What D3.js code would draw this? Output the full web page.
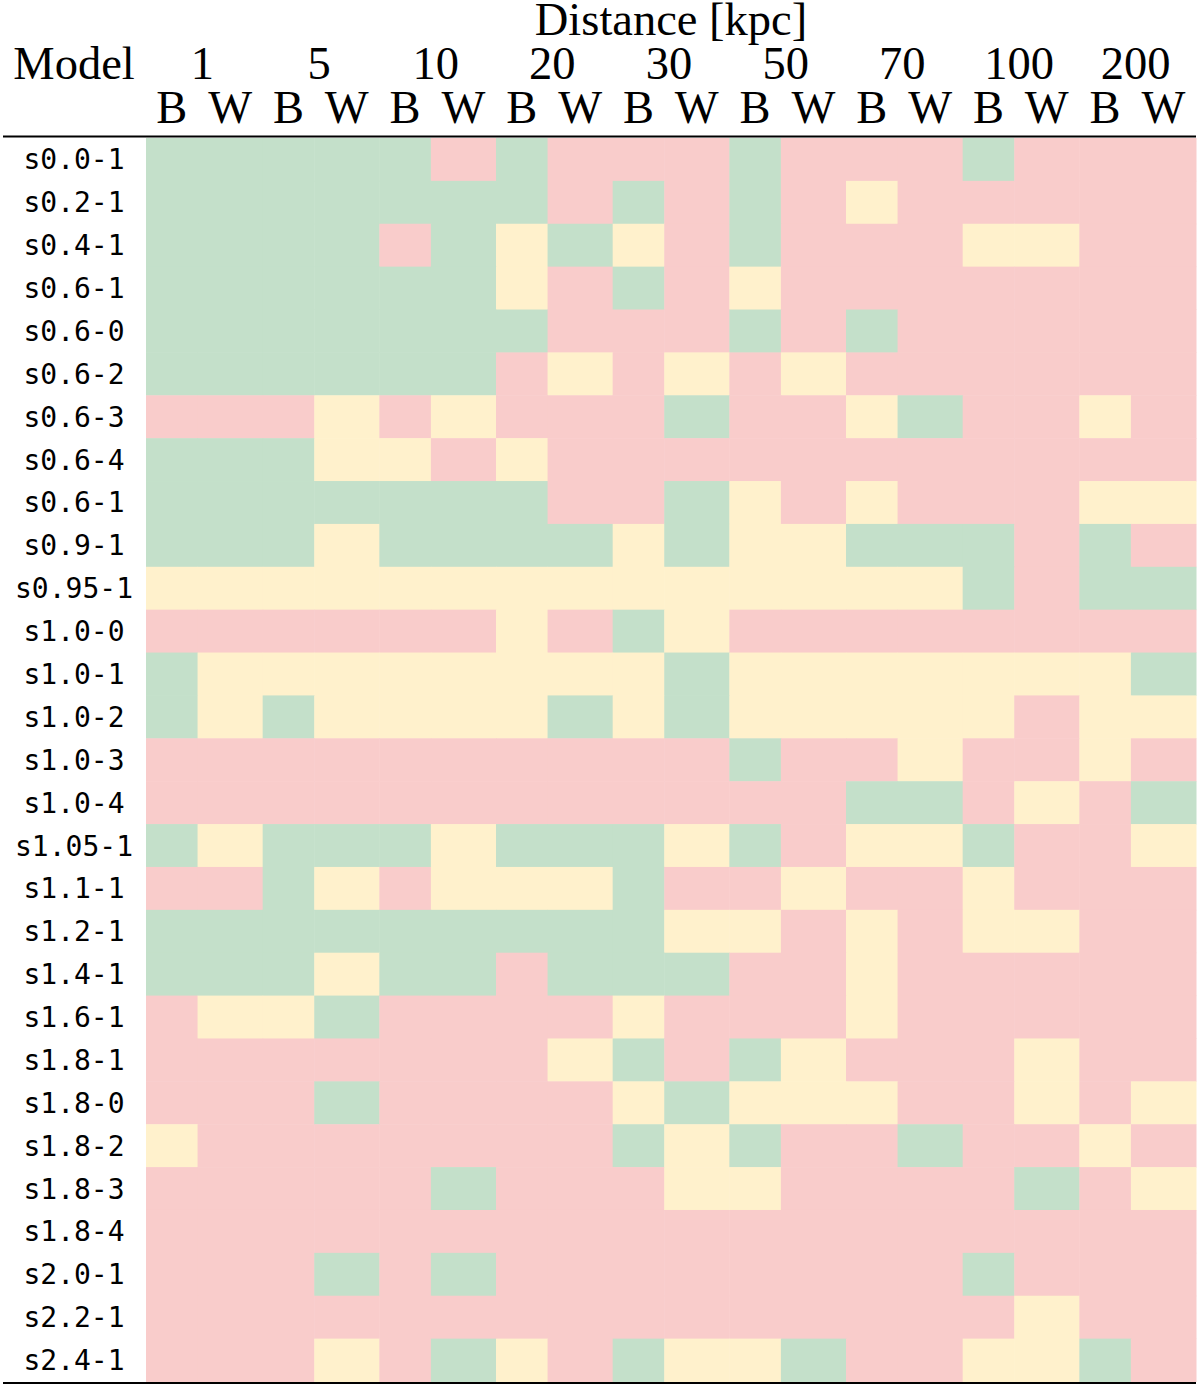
<!DOCTYPE html>
<html>
<head>
<meta charset="utf-8">
<script src="https://cdn.jsdelivr.net/npm/d3@7"></script>
<style>
  body { margin: 0; background: #fff; }
  .hdr { font-family: "Liberation Serif", "Times New Roman", serif; font-size: 46.5px; fill: #000; }
  .model { font-family: "DejaVu Sans Mono", monospace; font-size: 28px; fill: #000; }
</style>
</head>
<body>
<div id="chart"></div>
<script>
var svgWidth = 1200;
var svgHeight = 1387;

// table data
var distances = ["1", "5", "10", "20", "30", "50", "70", "100", "200"];
var subCols = ["B", "W"];
var models = ["s0.0-1", "s0.2-1", "s0.4-1", "s0.6-1", "s0.6-0", "s0.6-2", "s0.6-3", "s0.6-4",
  "s0.6-1", "s0.9-1", "s0.95-1", "s1.0-0", "s1.0-1", "s1.0-2", "s1.0-3", "s1.0-4",
  "s1.05-1", "s1.1-1", "s1.2-1", "s1.4-1", "s1.6-1", "s1.8-1", "s1.8-0", "s1.8-2",
  "s1.8-3", "s1.8-4", "s2.0-1", "s2.2-1", "s2.4-1"];
// one letter per column (1B,1W,5B,5W,...): G = green, Y = yellow, P = pink
var cellStatus = [
  "GGGGGPGPPPGPPPGPPP",
  "GGGGGGGPGPGPYPPPPP",
  "GGGGPGYGYPGPPPYYPP",
  "GGGGGGYPGPYPPPPPPP",
  "GGGGGGGPPPGPGPPPPP",
  "GGGGGGPYPYPYPPPPPP",
  "PPPYPYPPPGPPYGPPYP",
  "GGGYYPYPPPPPPPPPPP",
  "GGGGGGGPPGYPYPPPYY",
  "GGGYGGGGYGYYGGGPGP",
  "YYYYYYYYYYYYYYGPGG",
  "PPPPPPYPGYPPPPPPPP",
  "GYYYYYYYYGYYYYYYYG",
  "GYGYYYYGYGYYYYYPYY",
  "PPPPPPPPPPGPPYPPYP",
  "PPPPPPPPPPPPGGPYPG",
  "GYGGGYGGGYGPYYGPPY",
  "PPGYPYYYGPPYPPYPPP",
  "GGGGGGGGGYYPYPYYPP",
  "GGGYGGPGGGPPYPPPPP",
  "PYYGPPPPYPPPYPPPPP",
  "PPPPPPPYGPGYPPPYPP",
  "PPPGPPPPYGYYYPPYPY",
  "YPPPPPPPGYGPPGPPYP",
  "PPPPPGPPPYYPPPPGPY",
  "PPPPPPPPPPPPPPPPPP",
  "PPPGPGPPPPPPPPGPPP",
  "PPPPPPPPPPPPPPPYPP",
  "PPPYPGYPGYYGPPYYGP"
];
var colorOf = { G: "#c4e0ca", Y: "#fff1cc", P: "#f9cccb" };

var gridLeft = 146, gridRight = 1196, gridTop = 138, gridBottom = 1381.5;

var svg = d3.select("#chart")
  .append("svg")
  .attr("width", svgWidth)
  .attr("height", svgHeight);

var xDist = d3.scaleBand()
  .domain(distances)
  .range([gridLeft, gridRight])
  .padding(0);

// B columns are narrower than W columns
var bFrac = 0.442;
var subStart = d3.scaleOrdinal().domain(subCols).range([0, bFrac]);
var subWidth = d3.scaleOrdinal().domain(subCols).range([bFrac, 1 - bFrac]);

var y = d3.scaleBand()
  .domain(d3.range(models.length))
  .range([gridTop, gridBottom])
  .padding(0);

var cells = [];
cellStatus.forEach(function(row, i) {
  row.split("").forEach(function(c, j) {
    cells.push({
      row: i,
      dist: distances[Math.floor(j / 2)],
      sub: subCols[j % 2],
      val: c
    });
  });
});

var bw = xDist.bandwidth();

svg.append("g").selectAll("rect")
  .data(cells)
  .enter()
  .append("rect")
  .attr("x", d => xDist(d.dist) + subStart(d.sub) * bw)
  .attr("y", d => y(d.row))
  .attr("width", d => subWidth(d.sub) * bw + 0.5)
  .attr("height", y.bandwidth() + 0.5)
  .attr("fill", d => colorOf[d.val]);

// row labels
svg.append("g").selectAll("text")
  .data(models)
  .enter()
  .append("text")
  .attr("class", "model")
  .attr("x", 74)
  .attr("y", (d, i) => y(i) + y.bandwidth() / 2 + 10)
  .attr("text-anchor", "middle")
  .text(d => d);

// header
svg.append("text")
  .attr("class", "hdr")
  .attr("x", (gridLeft + gridRight) / 2)
  .attr("y", 35)
  .attr("text-anchor", "middle")
  .text("Distance [kpc]");

svg.append("text")
  .attr("class", "hdr")
  .attr("x", 74)
  .attr("y", 79)
  .attr("text-anchor", "middle")
  .text("Model");

svg.append("g").selectAll("text")
  .data(distances)
  .enter()
  .append("text")
  .attr("class", "hdr")
  .attr("x", d => xDist(d) + bw / 2 - 2)
  .attr("y", 79)
  .attr("text-anchor", "middle")
  .text(d => d);

var subLabels = [];
distances.forEach(function(d) {
  subCols.forEach(function(s) { subLabels.push({ dist: d, sub: s }); });
});

svg.append("g").selectAll("text")
  .data(subLabels)
  .enter()
  .append("text")
  .attr("class", "hdr")
  .attr("x", d => xDist(d.dist) + (subStart(d.sub) + subWidth(d.sub) / 2) * bw)
  .attr("y", 123)
  .attr("text-anchor", "middle")
  .text(d => d.sub);

// rules
svg.append("line")
  .attr("x1", 3).attr("x2", gridRight)
  .attr("y1", 136.5).attr("y2", 136.5)
  .attr("stroke", "#000").attr("stroke-width", 2);

svg.append("line")
  .attr("x1", 3).attr("x2", gridRight)
  .attr("y1", 1383).attr("y2", 1383)
  .attr("stroke", "#000").attr("stroke-width", 2);
</script>
</body>
</html>
